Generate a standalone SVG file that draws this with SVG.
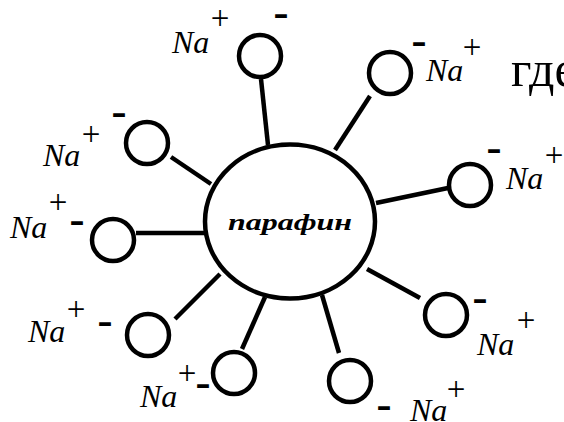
<svg xmlns="http://www.w3.org/2000/svg" width="564" height="422" viewBox="0 0 564 422">
<style>
.bg{fill:#fff}
.ring{fill:none;stroke:#000;stroke-width:4.5}
.big{fill:#fff;stroke:#000;stroke-width:4.5}
.con line{stroke:#000;stroke-width:4.5;stroke-linecap:butt}
.na{font-family:"Liberation Serif",serif;font-style:italic;font-size:32px;fill:#000}
.pl{font-family:"Liberation Serif",serif;font-size:33px;fill:#000;text-anchor:middle}
.mi{font-family:"Liberation Sans",sans-serif;font-size:48px;fill:#000;text-anchor:middle}
.par{font-family:"Liberation Serif",serif;font-style:italic;font-weight:bold;font-size:24px;fill:#000;text-anchor:middle}
.gde{font-family:"Liberation Serif",serif;font-size:50px;fill:#000}
</style>
<rect class="bg" x="0" y="0" width="564" height="422"/>
<g id="connectors" class="con">
<line x1="261" y1="79" x2="268" y2="145"/>
<line x1="370" y1="96" x2="335" y2="150"/>
<line x1="448" y1="188" x2="376" y2="203"/>
<line x1="420" y1="298" x2="367" y2="269"/>
<line x1="339" y1="353" x2="322" y2="295"/>
<line x1="242" y1="349" x2="265" y2="297"/>
<line x1="175" y1="319" x2="220" y2="274"/>
<line x1="136" y1="233" x2="205" y2="233"/>
<line x1="171" y1="157" x2="211" y2="184"/>
</g>
<g id="paraffin">
<ellipse class="big" cx="290" cy="221.5" rx="85" ry="77"/>
<text class="par" x="290" y="230" textLength="124" lengthAdjust="spacingAndGlyphs">парафин</text>
</g>
<g id="n1">
<circle class="ring" cx="260" cy="56" r="21"/>
<text class="na" x="172" y="53">Na</text>
<text class="pl" x="220" y="29">+</text>
<text class="mi" x="281" y="29">-</text>
</g>
<g id="n2">
<circle class="ring" cx="390" cy="73" r="21"/>
<text class="mi" x="419" y="57">-</text>
<text class="na" x="426" y="81">Na</text>
<text class="pl" x="472" y="58">+</text>
</g>
<g id="n3">
<circle class="ring" cx="470" cy="185" r="21"/>
<text class="mi" x="494" y="164">-</text>
<text class="na" x="506" y="189">Na</text>
<text class="pl" x="554" y="166">+</text>
</g>
<g id="n4">
<circle class="ring" cx="446" cy="315" r="21"/>
<text class="mi" x="480" y="314">-</text>
<text class="na" x="477" y="355">Na</text>
<text class="pl" x="526" y="331">+</text>
</g>
<g id="n5">
<circle class="ring" cx="350" cy="381" r="21"/>
<text class="mi" x="384" y="421">-</text>
<text class="na" x="410" y="421">Na</text>
<text class="pl" x="456" y="400">+</text>
</g>
<g id="n6">
<circle class="ring" cx="234" cy="373" r="21"/>
<text class="mi" x="203" y="399">-</text>
<text class="na" x="140" y="407">Na</text>
<text class="pl" x="187" y="384">+</text>
</g>
<g id="n7">
<circle class="ring" cx="148" cy="335" r="21"/>
<text class="mi" x="105" y="337">-</text>
<text class="na" x="28" y="342">Na</text>
<text class="pl" x="76" y="320">+</text>
</g>
<g id="n8">
<circle class="ring" cx="113" cy="240" r="21"/>
<text class="mi" x="77" y="236">-</text>
<text class="na" x="10" y="238">Na</text>
<text class="pl" x="58" y="213">+</text>
</g>
<g id="n9">
<circle class="ring" cx="147" cy="143" r="21"/>
<text class="mi" x="119" y="128">-</text>
<text class="na" x="43" y="166">Na</text>
<text class="pl" x="91" y="145">+</text>
</g>
<text id="gde" class="gde" x="511" y="86">где</text>
</svg>
